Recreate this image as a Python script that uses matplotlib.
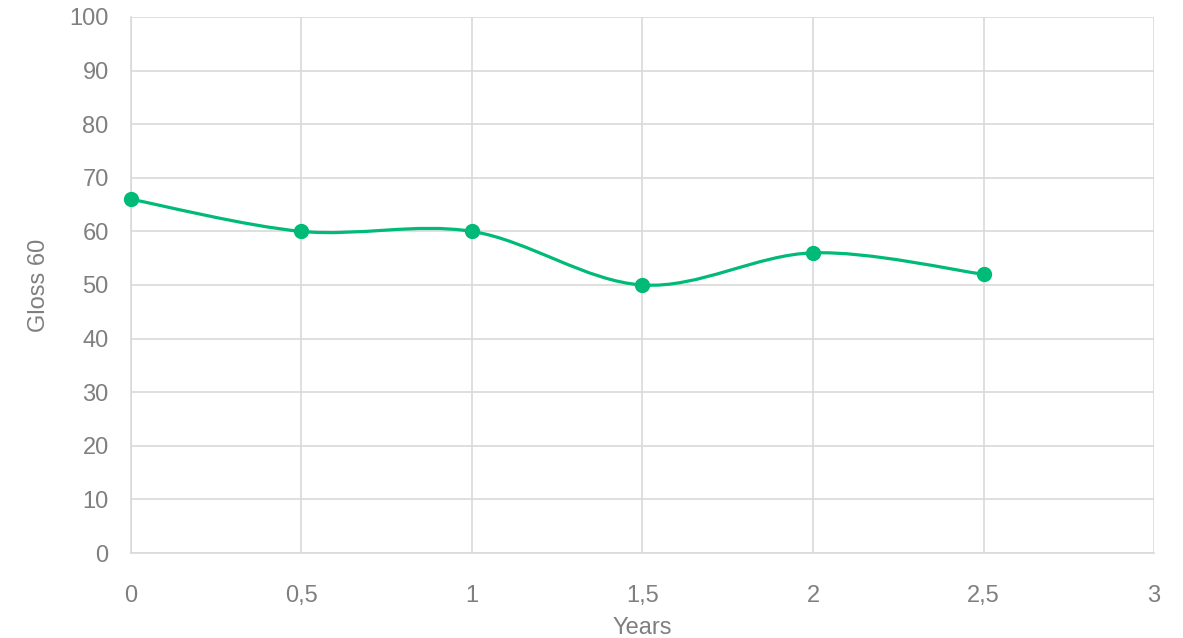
import numpy as np
import matplotlib
matplotlib.use("Agg")
import matplotlib.pyplot as plt
from matplotlib.path import Path
from matplotlib.patches import PathPatch
from matplotlib.ticker import FuncFormatter

years = [0, 0.5, 1, 1.5, 2, 2.5]
gloss = [66, 60, 60, 50, 56, 52]
x_ticks = [0, 0.5, 1, 1.5, 2, 2.5, 3]
y_ticks = list(range(0, 101, 10))

green = "#00BA78"
gray_text = "#7F7F7F"
grid_c = "#D9D9D9"

plt.rcParams['font.family'] = ['Liberation Sans', 'DejaVu Sans']

fig = plt.figure(figsize=(11.83, 6.38), dpi=100)
ax = fig.add_axes([0.1107, 0.1332, 0.9755 - 0.1107, 0.9734 - 0.1332])

# Excel-like smoothed line (Bezier with 1/6 tangents)
P = np.column_stack([years, gloss]).astype(float)
n = len(P)
verts = [tuple(P[0])]
codes = [Path.MOVETO]
for i in range(n - 1):
    p0 = P[i - 1] if i > 0 else P[i]
    p1 = P[i]
    p2 = P[i + 1]
    p3 = P[i + 2] if i + 2 < n else P[i + 1]
    c1 = p1 + (p2 - p0) / 6.0
    c2 = p2 - (p3 - p1) / 6.0
    verts += [tuple(c1), tuple(c2), tuple(p2)]
    codes += [Path.CURVE4] * 3
ax.add_patch(PathPatch(Path(verts, codes), facecolor="none", edgecolor=green,
                       lw=2.3, zorder=3, capstyle="round", joinstyle="round"))
ax.plot(years, gloss, linestyle="none", marker="o", markersize=10,
        color=green, zorder=4, clip_on=False)

ax.set_xlim(0, 3)
ax.set_ylim(0, 100)
ax.set_xticks(x_ticks)
ax.set_yticks(y_ticks)
ax.xaxis.set_major_formatter(FuncFormatter(lambda v, p: (f"{v:g}").replace(".", ",")))
ax.grid(True, color=grid_c, linewidth=1.2, zorder=0)
ax.set_axisbelow(True)
for s in ["top", "right"]:
    ax.spines[s].set_visible(False)
for s in ["left", "bottom"]:
    ax.spines[s].set_color(grid_c)
    ax.spines[s].set_linewidth(1.2)
ax.tick_params(axis="both", length=0, labelsize=17, labelcolor=gray_text)
ax.tick_params(axis="x", pad=23)
ax.tick_params(axis="y", pad=16)
ax.set_xlabel("Years", fontsize=17, color=gray_text, labelpad=7)
ax.set_ylabel("Gloss 60", fontsize=17, color=gray_text, labelpad=14)

fig.savefig("out.png", dpi=100)
